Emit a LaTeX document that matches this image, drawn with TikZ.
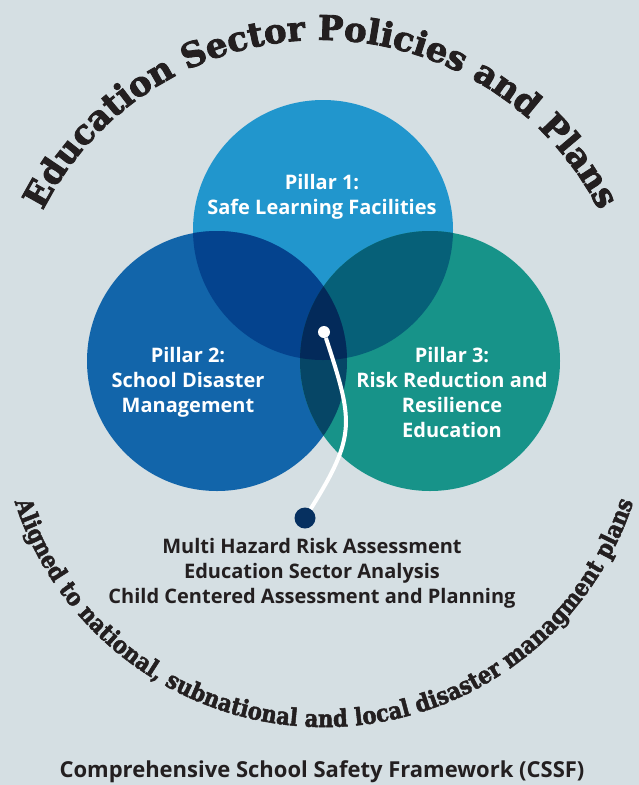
\documentclass[tikz,border=0pt]{standalone}
\usepackage{fontspec}
\usepackage{tikz}
\usetikzlibrary{decorations.text}
\setmainfont{Open Sans}
\newfontfamily\slabfont{DejaVu Serif Bold}[FakeBold=2.5]
\newfontfamily\slabnarrow{DejaVu Serif Bold}[FakeStretch=0.88,FakeBold=2]
\definecolor{bgcol}{RGB}{213,223,227}
\definecolor{inkcol}{RGB}{35,31,32}
\definecolor{pone}{RGB}{33,150,205}
\definecolor{ptwo}{RGB}{18,101,170}
\definecolor{pthree}{RGB}{23,147,137}
\definecolor{ponetwo}{RGB}{4,67,142}
\definecolor{ponethree}{RGB}{6,96,120}
\definecolor{ptwothree}{RGB}{6,70,102}
\definecolor{pall}{RGB}{3,42,90}
\definecolor{dotcol}{RGB}{6,48,96}

\begin{document}
\begin{tikzpicture}[x=1pt,y=1pt,
  pillar/.style={text=white,align=center,inner sep=0pt,font=\bfseries\fontsize{20}{25}\selectfont},
  toollist/.style={text=inkcol,align=center,inner sep=0pt,font=\bfseries\fontsize{20}{25}\selectfont},
  coredot/.style={circle,fill=white,minimum size=12pt,inner sep=0pt},
  enddot/.style={circle,fill=dotcol,minimum size=21pt,inner sep=0pt}]
\useasboundingbox (0,0) rectangle (639,-785);
\fill[bgcol] (0,0) rectangle (639,-785);

\coordinate (p1) at (323,-230);
\coordinate (p2) at (217,-361);
\coordinate (p3) at (430,-361);
\fill[pone] (p1) circle (130);
\fill[ptwo] (p2) circle (130);
\fill[pthree] (p3) circle (130);
\begin{scope}
\clip (p1) circle (130);
\fill[ponetwo] (p2) circle (130);
\fill[ponethree] (p3) circle (130);
\end{scope}
\begin{scope}
\clip (p2) circle (130);
\fill[ptwothree] (p3) circle (130);
\clip (p1) circle (130);
\fill[pall] (p3) circle (130);
\end{scope}

\node[pillar] (pillar1) at (322,-197) {Pillar 1:\\Safe Learning Facilities};
\node[pillar] (pillar2) at (188,-382) {Pillar 2:\\School Disaster\\Management};
\node[pillar] (pillar3) at (452,-392) {Pillar 3:\\Risk Reduction and\\Resilience\\Education};

\node[coredot] (core) at (324,-332) {};
\node[enddot] (tools) at (305,-518) {};
\draw[white,line width=4pt] (core) to[out=-72,in=58,looseness=1.3] (tools);

\node[toollist] (toolstext) at (312,-573) {Multi Hazard Risk Assessment\\Education Sector Analysis\\Child Centered Assessment and Planning};

\path[decorate,decoration={text along path,text align=center,
  text={|\slabfont\fontsize{34}{34}\selectfont\color{inkcol}|Education Sector Policies and Plans}}]
  (321,-352) ++(160:312) arc (160:20:312);
\path[decorate,decoration={text along path,text align=center,
  text={|\slabnarrow\fontsize{24}{24}\selectfont\color{inkcol}|Aligned to national, subnational and local disaster managment plans}}]
  (324,-402) ++(196:325) arc (196:344:325);

\node[anchor=base,text=inkcol,inner sep=0pt,font=\bfseries\fontsize{22}{26}\selectfont] (cssf) at (322,-777) {Comprehensive School Safety Framework (CSSF)};
\end{tikzpicture}
\end{document}
